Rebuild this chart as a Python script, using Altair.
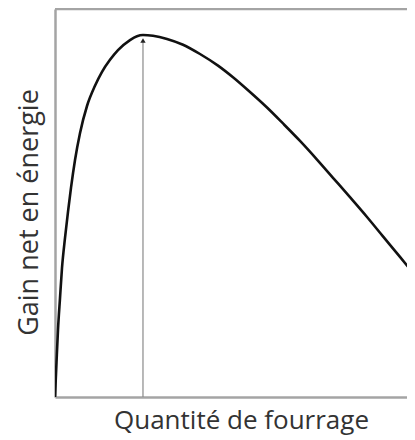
import altair as alt
import pandas as pd

# Curve: net energy gain vs forage quantity
quantite = [0.0, 0.42, 0.83, 1.39, 1.94, 2.78, 3.61, 4.44, 5.56, 6.94,
            8.89, 11.11, 13.06, 15.28, 17.50, 20.83, 22.78, 24.44,
            27.22, 31.11, 35.56, 40.28, 45.28, 49.44, 54.17, 58.89,
            63.33, 68.06, 72.78, 77.22, 81.94, 86.67, 91.11, 95.83, 100.0]
gain = [0.0, 9.0, 17.3, 25.5, 33.2, 41.0, 47.7, 53.9, 61.1, 68.0,
        75.0, 80.2, 83.8, 86.9, 89.4, 92.0, 93.0, 93.3,
        93.1, 92.3, 90.8, 88.4, 85.4, 82.4, 78.6, 74.6,
        70.5, 66.0, 61.2, 56.5, 51.5, 46.4, 41.4, 36.1, 31.4]

# Arrow at the optimum
arrow_x = [24.44, 24.44]
arrow_y = [0.0, 91.4]
arrow_head_x = [24.44]
arrow_head_y = [91.9]

x_title = "Quantité de fourrage"
y_title = "Gain net en énergie"

W, H = 352, 388
X_MAX = 97.78  # visible part of the x range (the picture is cut at the right)
FRAME = "#a4a4a4"
FONT = "Open Sans"
TXT = "#333333"

curve_df = pd.DataFrame({"q": quantite, "g": gain})
arrow_df = pd.DataFrame({"q": arrow_x, "g": arrow_y})
head_df = pd.DataFrame({"q": arrow_head_x, "g": arrow_head_y})

xs = alt.Scale(domain=[0, X_MAX], nice=False, zero=False)
ys = alt.Scale(domain=[0, 100], nice=False, zero=False)

x_axis = alt.Axis(title=x_title, domain=True, domainColor=FRAME, domainWidth=2.5,
                  ticks=False, labels=False, grid=False,
                  titleFont=FONT, titleFontSize=26, titleFontWeight="normal",
                  titleColor=TXT, titleX=186, titleY=31,
                  titleAlign="center", titleBaseline="alphabetic")
y_axis = alt.Axis(title=y_title, domain=True, domainColor=FRAME, domainWidth=2.5,
                  ticks=False, labels=False, grid=False,
                  titleFont=FONT, titleFontSize=27, titleFontWeight="normal",
                  titleColor=TXT, titleX=-18, titleY=203,
                  titleAlign="center", titleBaseline="alphabetic", titleAngle=270)

curve = alt.Chart(curve_df).mark_line(
    color="#111111", strokeWidth=2.6, interpolate="monotone", clip=True
).encode(
    x=alt.X("q:Q", scale=xs, axis=x_axis),
    y=alt.Y("g:Q", scale=ys, axis=y_axis),
)

arrow = alt.Chart(arrow_df).mark_line(color="#8a8a8a", strokeWidth=1.2).encode(
    x=alt.X("q:Q", scale=xs),
    y=alt.Y("g:Q", scale=ys),
)

head = alt.Chart(head_df).mark_point(
    shape="triangle-up", filled=True, color="#222222", size=28, opacity=1
).encode(
    x=alt.X("q:Q", scale=xs),
    y=alt.Y("g:Q", scale=ys),
)

top_line = alt.Chart(pd.DataFrame({"a": [0]})).mark_rule(
    color=FRAME, strokeWidth=2.5
).encode(x=alt.value(0), x2=alt.value(W), y=alt.value(0))

chart = alt.layer(top_line, arrow, curve, head).properties(
    width=W, height=H,
    autosize=alt.AutoSizeParams(type="none"),
    padding={"left": 47, "top": 1, "right": 0, "bottom": 43},
).configure_view(stroke=None)

chart.save("out.html", embed_options={"renderer": "svg", "actions": False})
